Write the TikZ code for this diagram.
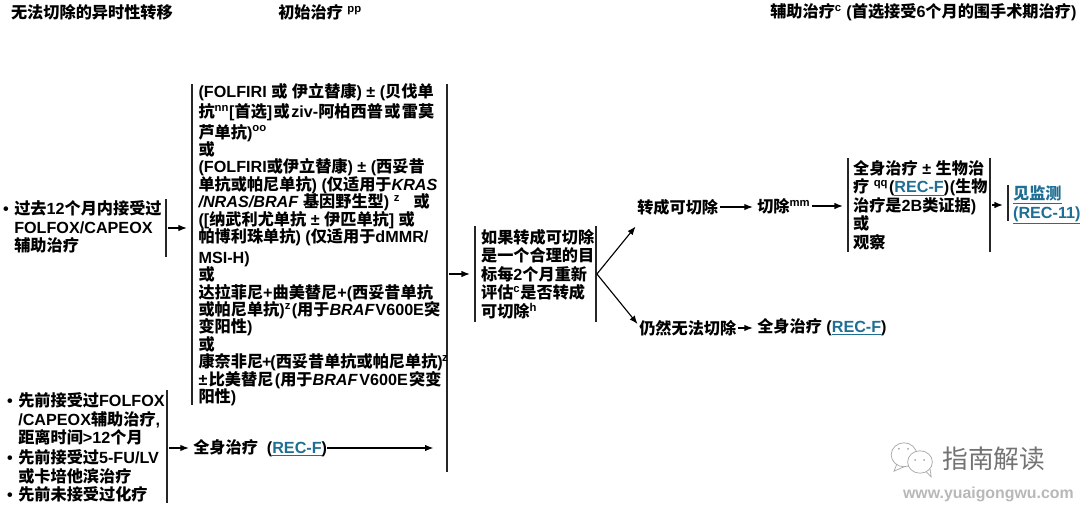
\documentclass[tikz,border=0pt]{standalone}
\usepackage{fontspec}
\setmainfont{Liberation Sans}
\newfontfamily\cjk{Noto Sans CJK SC}
\newcommand{\zh}[1]{{\cjk #1}}
\newcommand{\sps}[1]{\textsuperscript{#1}}
\newcommand{\tsp}{\hspace{1pt}}
\definecolor{linkblue}{HTML}{1F6F94}
\newcommand{\reclink}[1]{\textcolor{linkblue}{\underline{#1}}}
\newcommand{\bul}{\llap{\textbullet\,\,}}
\usetikzlibrary{positioning, arrows.meta}

\begin{document}
\begin{tikzpicture}[>={Latex[length=6pt,width=4.6pt]}, font=\bfseries\fontsize{11.5}{13.2}\selectfont]
  \tikzstyle{txt}=[inner sep=0pt, anchor=west, align=left]
  \tikzstyle{vbar}=[fill=black!85, inner sep=0pt, minimum width=0.9pt]
  \tikzstyle{arr}=[->, line width=0.8pt]
  \tikzstyle{gap}=[shorten >=3pt, shorten <=1pt]
  \useasboundingbox (0,0) rectangle (27,-12.65);

  % --- column titles ---
  \node[txt] (h1) at (0.27,-0.3) {\zh{无法切除的异时性转移}};
  \node[txt] (h2) at (6.95,-0.3) {\zh{初始治疗} \sps{pp}};
  \node[txt] (h3) at (19.25,-0.3) {\zh{辅助治疗}\sps{c} (\zh{首选接受}6\zh{个月的围手术期治疗})};

  % --- left column ---
  \node[txt] (l1) at (0.35,-5.675)
    {\bul\zh{过去}12\zh{个月内接受过}\\FOLFOX/CAPEOX\\\zh{辅助治疗}};
  \node[txt] (l2) at (0.45,-11.19)
    {\bul\zh{先前接受过}FOLFOX\\/CAPEOX\zh{辅助治疗},\\\zh{距离时间}>12\zh{个月}\\[1pt]
     \bul\zh{先前接受过}5-FU/LV\\\zh{或卡培他滨治疗}\\
     \bul\zh{先前未接受过化疗}};
  \node[vbar, minimum height=1.45cm] (l1r) at (4.15,-5.7) {};
  \node[vbar, minimum height=2.825cm] (l2r) at (4.175,-11.1625) {};

  % --- initial treatment ---
  \node[vbar, minimum height=8.025cm] (m1l) at (4.8,-6.1125) {};
  \node[vbar, minimum height=9.7cm] (m1r) at (11.175,-6.95) {};
  \node[txt, right=3.8pt of m1l, font=\bfseries\fontsize{11.5}{12.4}\selectfont] (m1)
    {(FOLFIRI \zh{或} \zh{伊立替康}) ± (\zh{贝伐单}\\[2.2pt]
     \zh{抗}\sps{nn}[\zh{首选}]\tsp\zh{或}\tsp ziv-\zh{阿柏西普}\tsp\zh{或}\tsp\zh{雷莫}\\[2.2pt]
     \zh{芦单抗})\sps{oo}\\
     \zh{或}\\
     (FOLFIRI\zh{或伊立替康}) ± (\zh{西妥昔}\\
     \zh{单抗或帕尼单抗}) (\zh{仅适用于}\textit{KRAS}\\
     \textit{/NRAS/BRAF} \zh{基因野生型}) \sps{z}~~~\zh{或}\\
     ([\zh{纳武利尤单抗} ± \zh{伊匹单抗}] \zh{或}\\
     \zh{帕博利珠单抗}) (\zh{仅适用于}dMMR/\\[2.2pt]
     MSI-H)\\
     \zh{或}\\
     \zh{达拉菲尼}+\zh{曲美替尼}+(\zh{西妥昔单抗}\\
     \zh{或帕尼单抗})\sps{z}\hspace{0.5pt}(\zh{用于}\textit{BRAF}\hspace{0.5pt}V600E\zh{突}\\
     \zh{变阳性})\\
     \zh{或}\\
     \zh{康奈非尼}\kern-0.8pt+\kern-0.8pt(\zh{西妥昔单抗或帕尼单抗})\kern-0.5pt\sps{z}\\
     ±\tsp\zh{比美替尼}\tsp(\zh{用于}\textit{BRAF}\tsp V600E\tsp\zh{突变}\\
     \zh{阳性})};
  \node[txt] (rx1) at (4.825,-11.2) {\zh{全身治疗}~~(\reclink{REC-F})};

  % --- conversion check ---
  \node[vbar, minimum height=2.4cm] (m2l) at (11.875,-6.85) {};
  \node[vbar, minimum height=2.4cm] (m2r) at (14.9,-6.85) {};
  \node[txt, right=3.5pt of m2l] (m2)
    {\zh{如果转成可切除}\\\zh{是一个合理的目}\\\zh{标每}2\zh{个月重新}\\\zh{评估}\sps{c}\zh{是否转成}\\\zh{可切除}\sps{h}};
  \node[txt] (a1) at (15.925,-5.175) {\zh{转成可切除}};
  \node[txt] (a2) at (15.975,-8.2) {\zh{仍然无法切除}};

  % --- right side ---
  \node[txt] (r1) at (18.925,-5.15) {\zh{切除}\sps{mm}};
  \node[txt] (r2) at (18.925,-8.175) {\zh{全身治疗} (\reclink{REC-F})};
  \node[vbar, minimum height=2.35cm] (b1l) at (21.2,-5.125) {};
  \node[vbar, minimum height=2.35cm] (b1r) at (24.75,-5.125) {};
  \node[txt, right=2.8pt of b1l] (b1)
    {\zh{全身治疗} ± \zh{生物治}\\\zh{疗} \sps{qq}\hspace{0.5pt}(\reclink{REC-F})\hspace{0.5pt}(\zh{生物}\\\zh{治疗是}2B\zh{类证据})\\\zh{或}\\\zh{观察}};
  \node[vbar, minimum height=0.9cm] (b2l) at (25.2,-5.075) {};
  \node[txt, right=2.8pt of b2l, yshift=-1.5pt] (b2) {\reclink{\zh{见监测}}\\\reclink{(REC-11)}};

  % --- arrows ---
  \draw[arr, gap] (l1r.east) -- (l1r.east -| m1l.west);
  \draw[arr, gap] (l2r.east |- rx1.west) -- (rx1.west);
  \draw[arr, shorten >=9pt] (rx1.east) -- (rx1.east -| m1r.west);
  \draw[arr, gap] (m1r.east |- m2l.west) -- (m2l.west);
  \draw[arr] (m2r.east) -- ([shift={(-1pt,-8pt)}]a1.south west);
  \draw[arr] (m2r.east) -- ([shift={(-1pt,-3pt)}]a2.north west);
  \draw[arr, gap] (a1.east) -- (a1.east -| r1.west);
  \draw[arr, gap] (r1.east) -- (r1.east -| b1l.west);
  \draw[arr, gap] (a2.east) -- (a2.east -| r2.west);
  \draw[arr, gap] (b1r.east) -- (b1r.east -| b2l.west);

  % --- mark in the corner ---
  \draw[black!35, fill=white, line width=0.5pt] (22.6,-11.37) ellipse (0.32 and 0.3);
  \draw[black!35, line width=0.5pt] (22.42,-11.6) -- (22.35,-11.78) -- (22.62,-11.66);
  \draw[black!35, fill=white, line width=0.5pt] (23.0,-11.55) ellipse (0.31 and 0.28);
  \draw[black!35, line width=0.5pt] (23.15,-11.79) -- (23.28,-11.92) -- (23.25,-11.72);
  \foreach \dotx/\doty in {22.47/-11.22, 22.7/-11.22, 22.88/-11.5, 23.1/-11.5}
    \fill[black!35] (\dotx,\doty) circle (0.025);
  \node[txt, font=\fontsize{18.3}{20}\selectfont, text=black!55] (wm1) at (23.55,-11.47) {\zh{指南解读}};
  \node[txt, font=\bfseries\fontsize{11.3}{13}\selectfont, text=black!28] (wm2) at (22.57,-12.35) {www.yuaigongwu.com};
\end{tikzpicture}
\end{document}
